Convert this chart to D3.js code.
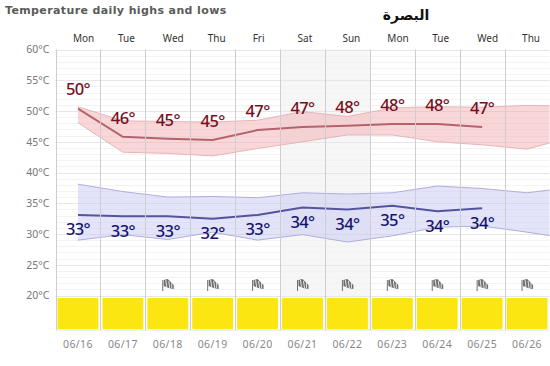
<!DOCTYPE html>
<html>
<head>
<meta charset="utf-8">
<script src="https://d3js.org/d3.v7.min.js"></script>
<style>
  html, body { margin: 0; padding: 0; background: #fff; }
  svg { display: block; }
  text { font-family: "Noto Sans", sans-serif; }
</style>
</head>
<body>
<div id="viz-container"></div>
<script>
const weekdays = ["Mon", "Tue", "Wed", "Thu", "Fri", "Sat", "Sun", "Mon", "Tue", "Wed", "Thu"];
const dates = ["06/16", "06/17", "06/18", "06/19", "06/20", "06/21", "06/22", "06/23", "06/24", "06/25", "06/26"];
const tempTicks = [20, 25, 30, 35, 40, 45, 50, 55, 60];
const minorTicks = d3.range(20, 61);

// daily highs: forecast value, average line, record band
const highLabels = [50, 46, 45, 45, 47, 47, 48, 48, 48, 47];
const highMean = [50.4, 45.8, 45.5, 45.3, 46.9, 47.4, 47.6, 47.9, 47.9, 47.4];
const highBandTop = [50.7, 48.4, 48.3, 48.2, 48.5, 49.9, 49.1, 50.5, 50.7, 50.6, 50.9, 50.8];
const highBandBottom = [48.1, 43.3, 43.1, 42.7, 43.9, 45.0, 46.1, 46.1, 45.0, 44.5, 43.8, 45.8];

// daily lows
const lowLabels = [33, 33, 33, 32, 33, 34, 34, 35, 34, 34];
const lowMean = [33.1, 32.9, 32.9, 32.5, 33.1, 34.3, 34.0, 34.6, 33.7, 34.2];
const lowBandTop = [38.1, 36.9, 36.0, 36.1, 35.9, 36.7, 36.5, 36.7, 37.8, 37.4, 36.7, 37.6];
const lowBandBottom = [29.0, 29.9, 29.1, 30.3, 29.0, 29.9, 28.7, 29.7, 31.1, 31.3, 30.3, 29.2];

const weekendDays = [5, 6];
const flagDays = [2, 3, 4, 5, 6, 7, 8, 9, 10];

const svg = d3.select("#viz-container")
    .append("svg")
    .attr("width", 550)
    .attr("height", 366);

const plot = { left: 55.5, right: 549.5, top: 49.5, bottom: 330 };

// x is in day units, 0 = left edge of first column
const x = d3.scaleLinear().domain([0, 11]).range([plot.left, plot.right]);
const y = d3.scaleLinear().domain([20, 60]).range([295.5, 49.5]);
const center = i => x(i + 0.5);

svg.append("clipPath").attr("id", "plot-clip")
    .append("rect")
    .attr("x", plot.left)
    .attr("y", plot.top)
    .attr("width", plot.right - plot.left)
    .attr("height", plot.bottom - plot.top);

// weekend shading
svg.selectAll(".weekend")
    .data(weekendDays)
    .join("rect")
    .attr("x", d => x(d))
    .attr("y", plot.top)
    .attr("width", x(1) - x(0))
    .attr("height", plot.bottom - plot.top)
    .attr("fill", "#f6f6f6");

// horizontal grid
svg.selectAll(".minor")
    .data(minorTicks)
    .join("line")
    .attr("x1", plot.left)
    .attr("x2", plot.right)
    .attr("y1", d => Math.round(y(d)) + 0.5)
    .attr("y2", d => Math.round(y(d)) + 0.5)
    .attr("stroke", d => d % 5 === 0 ? "#e6e6e6" : "#f3f3f3");

// bands and average lines
const bandArea = (top, bottom) => d3.area()
    .x((d, i) => center(i))
    .y0((d, i) => y(bottom[i]))
    .y1(d => y(d))(top);

const chart = svg.append("g").attr("clip-path", "url(#plot-clip)");

const series = [
    { top: highBandTop, bottom: highBandBottom, mean: highMean, fill: "#f3abb0", edge: "#e7b4b8", line: "#b4636c" },
    { top: lowBandTop, bottom: lowBandBottom, mean: lowMean, fill: "#c4c4f3", edge: "#aeaedb", line: "#55559f" }
];

const edgeLine = d3.line().x((d, i) => center(i)).y(d => y(d));

series.forEach(s => {
    chart.append("path").attr("d", bandArea(s.top, s.bottom)).attr("fill", s.fill).attr("fill-opacity", 0.48);
    chart.append("path").attr("d", edgeLine(s.top)).attr("fill", "none").attr("stroke", s.edge);
    chart.append("path").attr("d", edgeLine(s.bottom)).attr("fill", "none").attr("stroke", s.edge);
    chart.append("path").attr("d", edgeLine(s.mean)).attr("fill", "none").attr("stroke", s.line).attr("stroke-width", 2);
});

// day separators
svg.selectAll(".day-line")
    .data(d3.range(0, 12))
    .join("line")
    .attr("x1", d => Math.round(x(d)) + 0.5)
    .attr("x2", d => Math.round(x(d)) + 0.5)
    .attr("y1", plot.top)
    .attr("y2", plot.bottom)
    .attr("stroke", "#cdcdd2");

svg.append("line")
    .attr("x1", plot.left)
    .attr("x2", plot.right)
    .attr("y1", plot.bottom)
    .attr("y2", plot.bottom)
    .attr("stroke", "#e0e0e0");

// y axis labels
const yAxis = svg.append("g")
    .attr("transform", `translate(${plot.left},0)`)
    .call(d3.axisLeft(y).tickValues(tempTicks).tickSize(0).tickPadding(6).tickFormat(d => d + "°C"));
yAxis.select(".domain").remove();
yAxis.selectAll("text")
    .attr("font-size", 10.5)
    .attr("fill", "#777777")
    .style("font-family", '"Noto Sans", sans-serif');

// weather boxes along the bottom
svg.selectAll(".sun")
    .data(dates)
    .join("rect")
    .attr("x", (d, i) => x(i) + 2)
    .attr("y", 298)
    .attr("width", x(1) - x(0) - 4)
    .attr("height", 31)
    .attr("rx", 1)
    .attr("fill", "#fce612");

// wind flags
const flags = svg.selectAll(".flag")
    .data(flagDays)
    .join("g")
    .attr("transform", d => `translate(${center(d) - 5},279)`);
flags.append("line")
    .attr("x1", 0).attr("x2", 0).attr("y1", 1).attr("y2", 12)
    .attr("stroke", "#707070").attr("stroke-width", 1);
flags.append("path")
    .attr("d", "M1,1 L5,0 L11,6 L11,10 L6,9 L1,7 Z")
    .attr("fill", "#6e6e6e");
flags.append("path")
    .attr("d", "M3,1 L4,8 M6,2 L7,9 M9,4 L9,9")
    .attr("stroke", "#e4e4e4")
    .attr("fill", "none");

// value labels
const valueLabels = (values, means, dy, color) => svg.append("g")
    .selectAll("text")
    .data(values)
    .join("text")
    .attr("x", (d, i) => center(i))
    .attr("y", (d, i) => y(means[i]) + dy)
    .attr("dy", "0.36em")
    .attr("text-anchor", "middle")
    .attr("font-size", 16.5)
    .attr("font-weight", 500)
    .attr("letter-spacing", "-0.6px")
    .attr("fill", color)
    .text(d => d + "°");

valueLabels(highLabels, highMean, -19, "#780f1e");
valueLabels(lowLabels, lowMean, 14.5, "#14146e");

// day names and dates
svg.append("g").selectAll("text")
    .data(weekdays)
    .join("text")
    .attr("x", (d, i) => x(i) + 17.5)
    .attr("y", 42)
    .attr("font-size", 10)
    .attr("fill", "#333333")
    .text(d => d);

svg.append("g").selectAll("text")
    .data(dates)
    .join("text")
    .attr("x", (d, i) => center(i))
    .attr("y", 348)
    .attr("text-anchor", "middle")
    .attr("font-size", 10.5)
    .attr("letter-spacing", "0.4px")
    .attr("fill", "#888888")
    .text(d => d);

// titles
svg.append("text")
    .attr("x", 5)
    .attr("y", 14)
    .attr("font-size", 11)
    .attr("font-weight", "bold")
    .attr("letter-spacing", "0.38px")
    .attr("fill", "#5a5a5a")
    .style("font-family", '"DejaVu Sans", sans-serif')
    .text("Temperature daily highs and lows");

svg.append("text")
    .attr("x", 406)
    .attr("y", 20)
    .attr("text-anchor", "middle")
    .attr("font-size", 14)
    .attr("font-weight", "bold")
    .attr("fill", "#111111")
    .style("font-family", '"DejaVu Sans", sans-serif')
    .text("البصرة");
</script>
</body>
</html>
